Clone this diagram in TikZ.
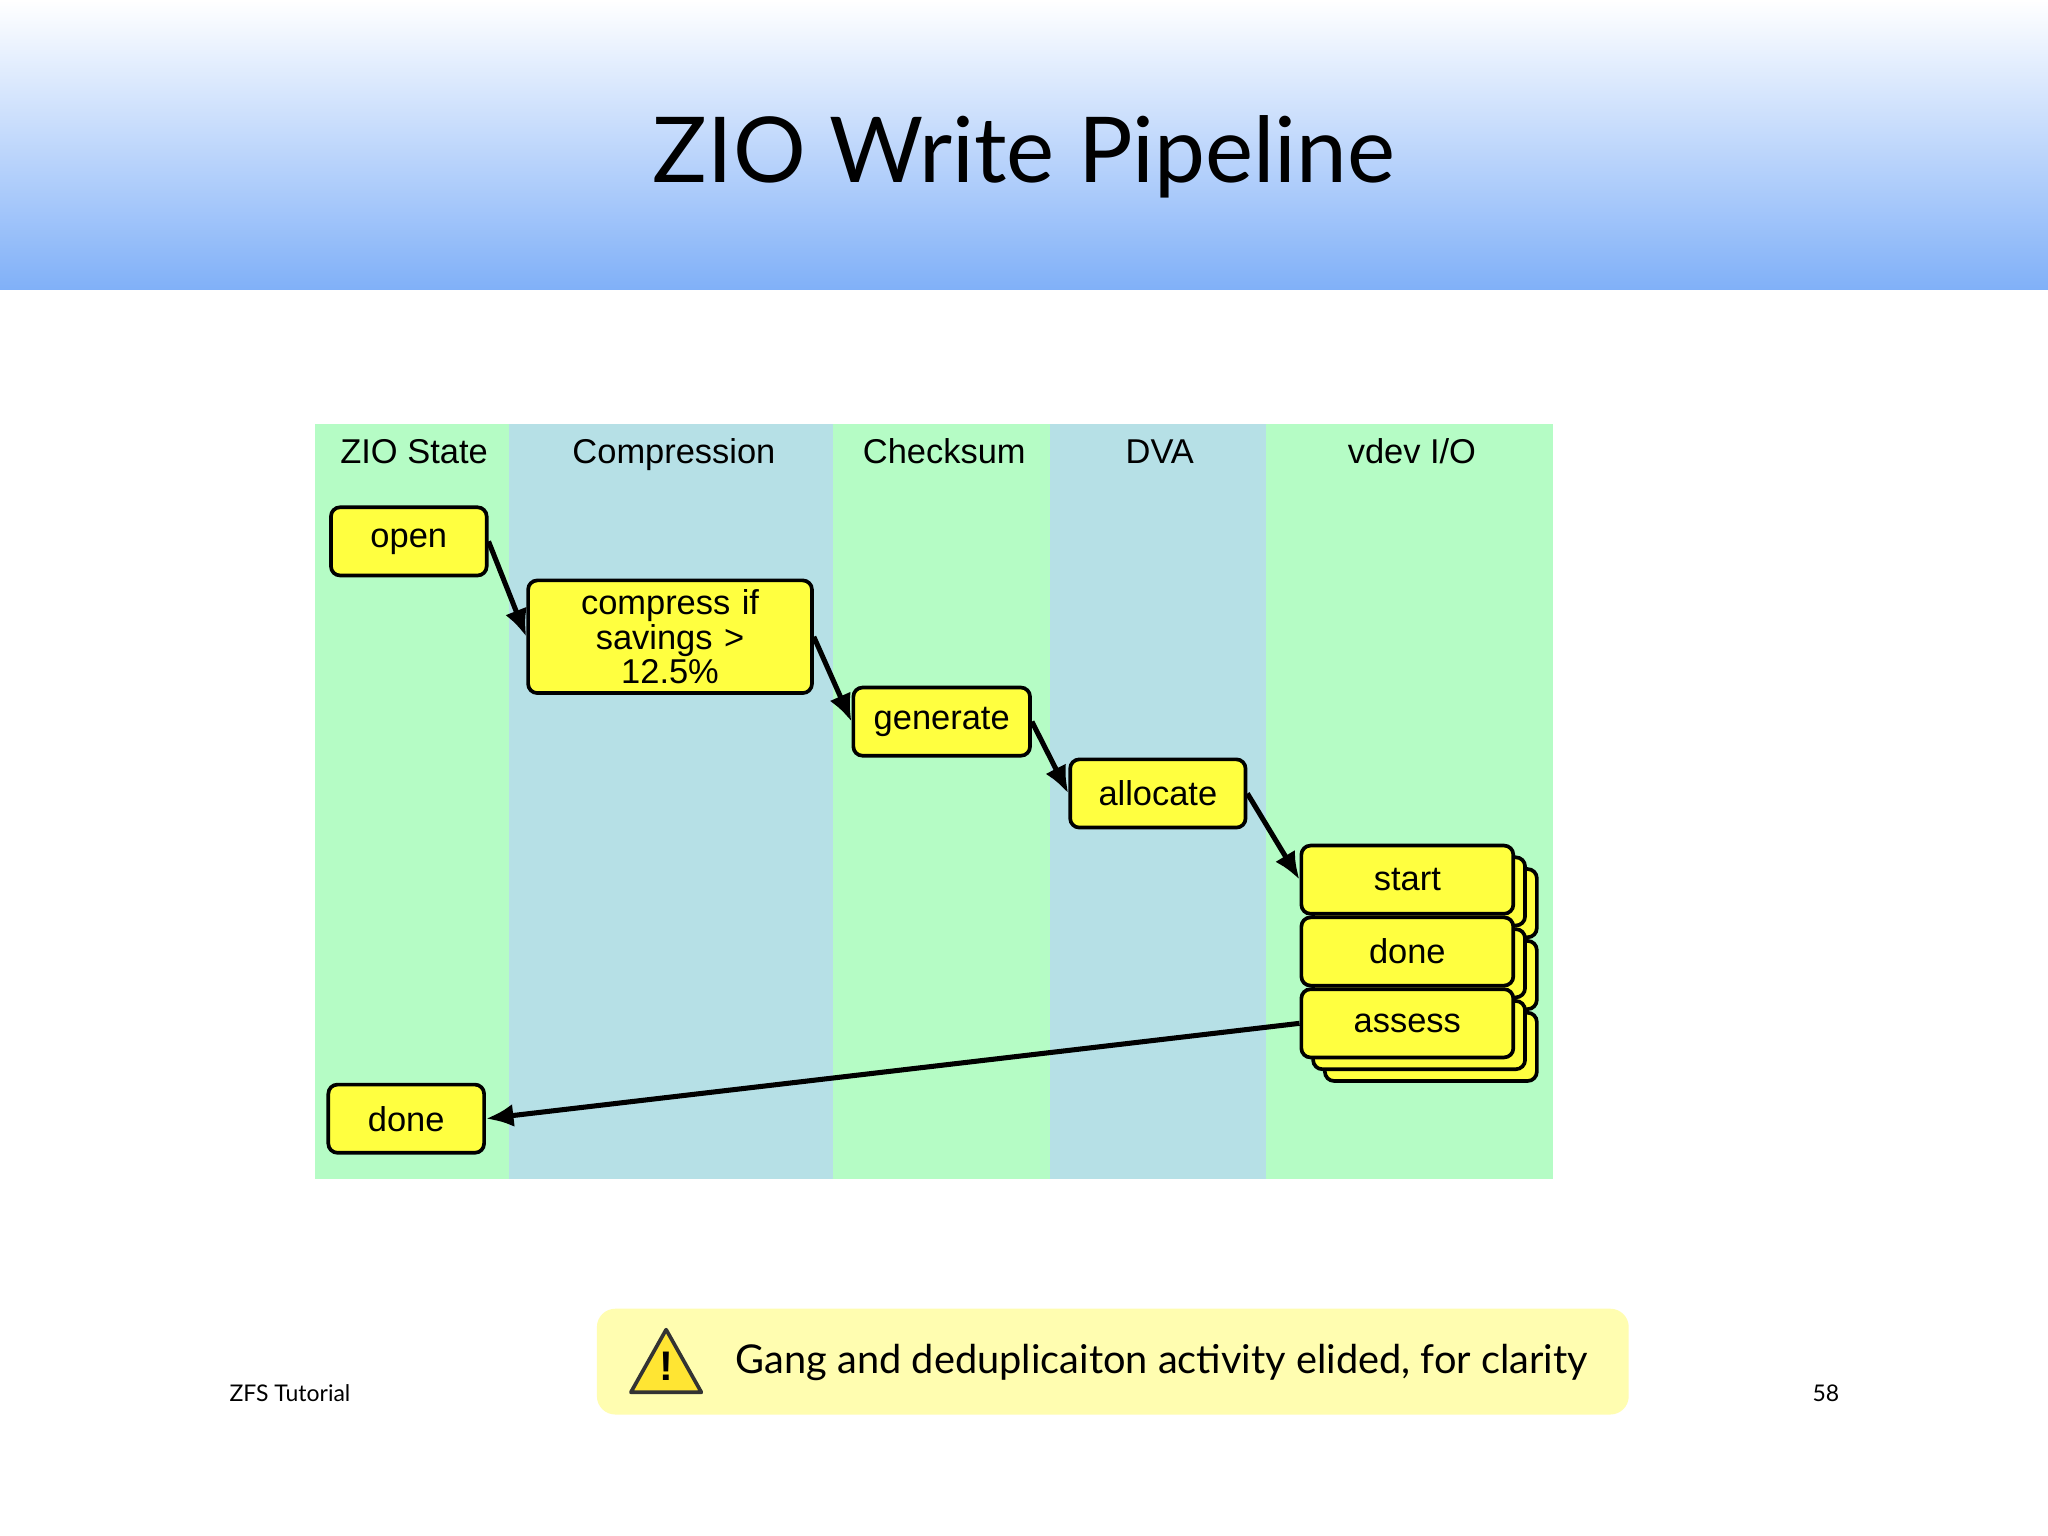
\documentclass[tikz,border=0pt]{standalone}
\usepackage{fontspec}
\setmainfont{Liberation Sans}
\newfontfamily\titlefont{Lato}
\usetikzlibrary{arrows.meta}
\definecolor{lgreen}{HTML}{B5FCC5}
\definecolor{lblue}{HTML}{B6E0E6}
\definecolor{byel}{HTML}{FFFF40}
\definecolor{pyel}{HTML}{FFFDB0}
\definecolor{hblue}{HTML}{80B0F8}
\tikzset{
 stepbox/.style={draw=black,line width=0.8pt,rounded corners=2pt,fill=byel,font=\fontsize{7.5}{7.5}\selectfont,align=center,inner sep=0pt},
 conn/.style={line width=1.1pt,-{Latex[length=6pt,width=5pt]}},
 lanelbl/.style={font=\fontsize{7.5}{8}\selectfont,anchor=base}
}
\begin{document}
\begin{tikzpicture}[x=0.01cm,y=-0.01cm]
\useasboundingbox (0,0) rectangle (1568,1176);
\fill[white] (0,0) rectangle (1568,1176);
\shade[top color=white,bottom color=hblue] (0,0) rectangle (1568,222);
\node[font=\titlefont\fontsize{19.8}{20}\selectfont] (title) at (784,120) {ZIO Write Pipeline};
% lanes
\fill[lgreen] (241,325) rectangle (390,903);
\fill[lblue] (390,325) rectangle (638,903);
\fill[lgreen] (638,325) rectangle (804,903);
\fill[lblue] (804,325) rectangle (969,903);
\fill[lgreen] (969,325) rectangle (1189,903);
\node[lanelbl] (l1) at (317,355) {ZIO State};
\node[lanelbl] (l2) at (516,355) {Compression};
\node[lanelbl] (l3) at (723,355) {Checksum};
\node[lanelbl] (l4) at (888,355) {DVA};
\node[lanelbl] (l5) at (1081,355) {vdev I/O};
% boxes
\node[stepbox,minimum width=1.22cm-0.8pt,minimum height=0.55cm-0.8pt] (open) at (313,414.5) {open};
\node[stepbox,minimum width=2.2cm-0.8pt,minimum height=0.89cm-0.8pt,text width=2cm] (comp) at (513,487.5) {compress if\\savings \textgreater\\12.5\%};
\node[stepbox,minimum width=1.38cm-0.8pt,minimum height=0.55cm-0.8pt] (gen) at (721,552.5) {generate};
\node[stepbox,minimum width=1.37cm-0.8pt,minimum height=0.55cm-0.8pt] (alloc) at (886.5,607.5) {allocate};
\foreach \o in {18,9}{
 \foreach \yy in {673.5,728.5,783.5}{
  \node[stepbox,minimum width=1.65cm-0.8pt,minimum height=0.55cm-0.8pt] at (1077.5+\o,\yy+\o) {};
 }}
\node[stepbox,minimum width=1.65cm-0.8pt,minimum height=0.55cm-0.8pt] (start) at (1077.5,673.5) {start};
\node[stepbox,minimum width=1.65cm-0.8pt,minimum height=0.55cm-0.8pt] (vdone) at (1077.5,728.5) {done};
\node[stepbox,minimum width=1.65cm-0.8pt,minimum height=0.55cm-0.8pt] (assess) at (1077.5,783.5) {assess};
\node[stepbox,minimum width=1.22cm-0.8pt,minimum height=0.55cm-0.8pt] (done) at (311,856.5) {done};
% connectors
\draw[conn] (open.east) -- (comp.west);
\draw[conn] (comp.east) -- (gen.west);
\draw[conn] (gen.east) -- (alloc.west);
\draw[conn] (alloc.east) -- (start.west);
\draw[conn] (assess.west) -- (done.east);
% footer
\fill[pyel,rounded corners=4pt] (457,1002) rectangle (1247,1083);
\filldraw[fill=byel!80!orange,draw=black!80,line width=0.8pt,line join=round] (483,1066) -- (510,1018) -- (537,1066) -- cycle;
\node[font=\bfseries\fontsize{9}{9}\selectfont] (excl) at (510,1046) {!};
\node[font=\titlefont\fontsize{8.65}{10}\selectfont,anchor=west] (note) at (551,1043) {Gang and deduplicaiton activity elided, for clarity};
\node[font=\titlefont\fontsize{5}{5}\selectfont] (zfs) at (222,1067) {ZFS Tutorial};
\node[font=\titlefont\fontsize{5}{5}\selectfont] (pg) at (1398,1067) {58};
\end{tikzpicture}
\end{document}
